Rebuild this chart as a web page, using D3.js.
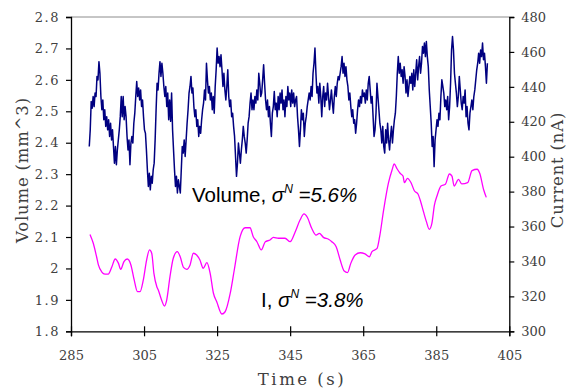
<!DOCTYPE html>
<html><head><meta charset="utf-8">
<script src="https://cdn.jsdelivr.net/npm/d3@7/dist/d3.min.js"></script>
<style>
html,body{margin:0;padding:0;background:#fff;}
svg{display:block;}
</style></head>
<body>
<svg id="chart" width="566" height="389"></svg>
<script>
// ---- data ----
const xTicks = [285, 305, 325, 345, 365, 385, 405];
const volTicks = [1.8, 1.9, 2.0, 2.1, 2.2, 2.3, 2.4, 2.5, 2.6, 2.7, 2.8];
const curTicks = [300, 320, 340, 360, 380, 400, 420, 440, 460, 480];

// Volume samples (mm^3), uniformly sampled from 290 s to 399 s
const volStart = 290, volEnd = 399;
const volume = [
2.388,2.441,2.531,2.510,2.547,2.515,2.558,2.547,2.611,2.600,2.658,2.621,2.547,2.505,2.536,2.473,2.505,2.452,2.483,2.441,
2.473,2.420,2.462,2.409,2.441,2.388,2.335,2.388,2.330,2.377,2.409,2.441,2.483,2.547,2.483,2.547,2.473,2.515,2.483,2.420,
2.377,2.409,2.330,2.399,2.420,2.399,2.462,2.494,2.547,2.595,2.547,2.574,2.536,2.568,2.515,2.536,2.483,2.441,2.430,2.377,
2.314,2.261,2.303,2.250,2.293,2.271,2.314,2.335,2.409,2.505,2.589,2.568,2.621,2.658,2.611,2.653,2.621,2.579,2.547,2.579,
2.515,2.558,2.473,2.536,2.468,2.558,2.441,2.377,2.314,2.261,2.293,2.240,2.282,2.261,2.240,2.314,2.388,2.367,2.409,2.356,
2.409,2.462,2.505,2.558,2.579,2.611,2.558,2.574,2.515,2.483,2.505,2.452,2.473,2.420,2.452,2.430,2.473,2.505,2.526,2.568,
2.536,2.653,2.600,2.558,2.579,2.536,2.558,2.505,2.547,2.494,2.579,2.632,2.701,2.653,2.674,2.642,2.680,2.632,2.579,2.621,
2.568,2.536,2.579,2.632,2.547,2.515,2.536,2.483,2.494,2.452,2.420,2.356,2.293,2.335,2.399,2.367,2.335,2.377,2.409,2.452,
2.420,2.399,2.367,2.409,2.462,2.483,2.526,2.558,2.505,2.536,2.505,2.547,2.526,2.568,2.536,2.621,2.589,2.547,2.558,2.600,
2.648,2.589,2.536,2.505,2.536,2.483,2.515,2.462,2.420,2.494,2.515,2.563,2.505,2.526,2.483,2.547,2.505,2.558,2.526,2.568,
2.505,2.536,2.483,2.547,2.515,2.579,2.536,2.558,2.515,2.568,2.526,2.558,2.515,2.536,
2.547,2.483,2.441,2.388,2.441,2.505,2.473,2.494,2.420,2.462,2.483,2.515,2.536,2.558,2.536,2.579,2.547,2.621,2.653,2.701,
2.621,2.558,2.579,2.526,2.589,2.547,2.483,2.547,2.579,2.515,2.558,2.536,2.589,2.547,2.505,2.536,2.568,2.526,2.494,2.547,
2.579,2.547,2.589,2.611,2.600,2.621,2.642,2.674,2.621,2.653,2.611,2.642,2.600,2.579,2.536,2.558,2.515,2.483,2.505,2.462,
2.473,2.430,2.462,2.505,2.536,2.515,2.547,2.526,2.568,2.547,2.558,2.526,2.568,2.536,2.589,2.611,2.568,2.526,2.547,2.483,
2.420,2.441,2.494,2.589,2.547,2.505,2.462,2.441,2.399,2.452,2.388,2.367,2.441,2.399,2.462,2.409,2.377,2.420,2.452,2.399,
2.441,2.473,2.494,2.547,2.621,2.674,2.621,2.653,2.611,2.632,2.589,2.642,2.611,2.558,2.600,2.547,2.579,2.611,2.589,2.621,
2.568,2.632,2.579,2.621,2.664,2.600,2.642,2.674,2.621,2.653,2.706,2.685,2.717,2.674,2.722,2.674,2.642,2.568,2.515,2.462,
2.388,2.420,2.324,2.409,2.441,2.473,2.452,2.494,2.473,2.547,2.600,2.579,2.558,2.515,2.536,2.505,2.547,2.473,2.515,2.589,
2.695,2.738,2.695,2.621,2.589,2.558,2.515,2.547,2.611,2.568,2.526,2.505,2.547,2.526,2.568,2.483,2.515,2.462,2.441,2.494,
2.515,2.536,2.505,2.547,2.568,2.600,2.632,2.653,2.685,2.653,2.695,2.674,2.717,2.664,2.685,2.642,2.589,2.653
];

// Current (nA): time (s) and value
const curTime = [
290.2,291.1,292.0,292.5,293.4,294.3,295.2,296.2,297.1,298.0,298.6,299.5,300.4,301.4,302.3,303.2,303.9,304.8,305.7,306.5,
307.1,307.7,308.5,308.9,309.8,310.6,311.2,312.1,313.0,314.1,314.9,315.8,316.7,317.6,318.5,319.4,320.3,321.2,322.2,323.1,
324.0,324.9,326.3,327.2,328.6,329.7,331.3,332.7,334.0,334.9,335.9,337.1,338.2,339.5,340.4,341.8,343.6,345.0,346.4,347.7,
348.8,349.7,350.9,352.1,353.0,354.1,355.5,356.4,357.6,358.7,359.8,360.7,361.6,362.8,364.2,365.5,366.7,367.4,368.8,369.5,
370.6,371.9,372.9,373.5,374.2,375.1,375.9,376.3,377.1,378.1,379.0,380.0,380.6,381.5,382.3,383.1,383.8,384.5,385.2,386.3,
387.5,388.6,389.3,389.9,391.1,392.0,393.6,394.8,396.2,396.9,398.0,398.7
];
const current = [
355.5,350.4,342.7,338.0,334.1,332.8,332.8,337.0,341.4,338.9,335.5,339.9,341.4,338.0,329.4,322.7,322.7,329.4,340.8,346.6,
344.7,333.2,325.5,323.6,317.9,314.5,317.9,331.3,341.8,345.6,342.7,336.6,335.5,338.0,344.7,343.7,340.8,336.1,339.3,333.2,
321.8,316.9,309.9,311.2,321.8,335.1,354.2,359.3,359.3,354.2,351.3,346.6,351.3,352.3,353.8,353.3,353.3,351.3,357.0,363.7,
367.2,365.3,359.0,355.1,356.1,353.8,352.7,351.3,348.4,340.8,334.5,333.6,338.9,343.7,345.0,344.3,342.7,345.6,347.5,354.2,
369.5,384.8,392.4,395.8,393.3,390.5,388.9,385.1,387.6,385.1,380.5,378.6,375.2,368.5,362.8,358.4,361.8,372.3,377.5,383.2,
384.2,390.1,388.9,383.2,387.0,384.4,385.1,392.0,392.8,390.5,380.9,376.7
];

// ---- layout ----
const svg = d3.select("#chart");
const L = 71, R = 509.3, T = 17, B = 331.3;

const x = d3.scaleLinear().domain([285, 405]).range([L, R]);
const yV = d3.scaleLinear().domain([1.8, 2.8]).range([B, T]);
const yI = d3.scaleLinear().domain([300, 480]).range([B, T]);

const tickFont = "'DejaVu Serif', serif";
const labelColor = "#404040";

// top frame line
svg.append("line").attr("x1", L).attr("x2", R).attr("y1", T).attr("y2", T)
  .attr("stroke", "#8c8c8c").attr("stroke-width", 1);

// left axis
const gL = svg.append("g").attr("transform", `translate(${L},0)`)
  .call(d3.axisLeft(yV).tickValues(volTicks).tickSize(5).tickPadding(6)
    .tickFormat(d => d3.format("")(+d.toFixed(1))));
// right axis
const gR = svg.append("g").attr("transform", `translate(${R},0)`)
  .call(d3.axisRight(yI).tickValues(curTicks).tickSize(5).tickPadding(7));
// bottom axis
const gB = svg.append("g").attr("transform", `translate(0,${B})`)
  .call(d3.axisBottom(x).tickValues(xTicks).tickSize(5).tickPadding(14));
gB.selectAll(".tick line").attr("y1", -5);

[gL, gR, gB].forEach(g => {
  g.select(".domain").attr("stroke", "#000").attr("stroke-width", 1.3);
  g.selectAll(".tick line").attr("stroke", "#000").attr("stroke-width", 1.2);
  g.selectAll("text").attr("font-family", tickFont).attr("font-size", 13)
    .attr("fill", labelColor);
});
gL.selectAll("text").attr("letter-spacing", 1.5);

// lines
const volData = volume.map((v, i) => ({t: volStart + i * (volEnd - volStart) / (volume.length - 1), v}));
svg.append("path").datum(volData)
  .attr("fill", "none").attr("stroke", "#000080").attr("stroke-width", 1.5)
  .attr("stroke-linejoin", "round")
  .attr("d", d3.line().x(d => x(d.t)).y(d => yV(d.v)));

const curData = current.map((c, i) => ({t: curTime[i], c}));
svg.append("path").datum(curData)
  .attr("fill", "none").attr("stroke", "#ff00ff").attr("stroke-width", 1.3)
  .attr("d", d3.line().curve(d3.curveMonotoneX).x(d => x(d.t)).y(d => yI(d.c)));

// axis titles
svg.append("text").attr("transform", `translate(28,170) rotate(-90)`)
  .attr("text-anchor", "middle").attr("font-family", tickFont).attr("font-size", 16.5)
  .attr("fill", labelColor).attr("letter-spacing", 0.8).text("Volume (mm^3)");
svg.append("text").attr("transform", `translate(563,170) rotate(-90)`)
  .attr("text-anchor", "middle").attr("font-family", tickFont).attr("font-size", 16.5)
  .attr("fill", labelColor).attr("letter-spacing", 0.8).text("Current (nA)");
svg.append("text").attr("x", 302).attr("y", 385)
  .attr("text-anchor", "middle").attr("font-family", tickFont).attr("font-size", 16.5)
  .attr("fill", labelColor).attr("letter-spacing", 2.5).text("Time (s)");

// annotations
function annot(xp, yp, lead, val) {
  const t = svg.append("text").attr("x", xp).attr("y", yp)
    .attr("font-family", "'Liberation Sans', Arial, sans-serif").attr("font-size", 20.5).attr("fill", "#000");
  t.append("tspan").text(lead);
  t.append("tspan").attr("font-style", "italic").text("σ");
  t.append("tspan").attr("font-style", "italic").attr("font-size", 12).attr("dy", -9).text("N");
  t.append("tspan").attr("font-style", "italic").attr("dy", 9).text(" =" + val);
}
annot(192, 202, "Volume, ", "5.6%");
annot(261, 306.5, "I, ", "3.8%");
</script>
</body></html>
